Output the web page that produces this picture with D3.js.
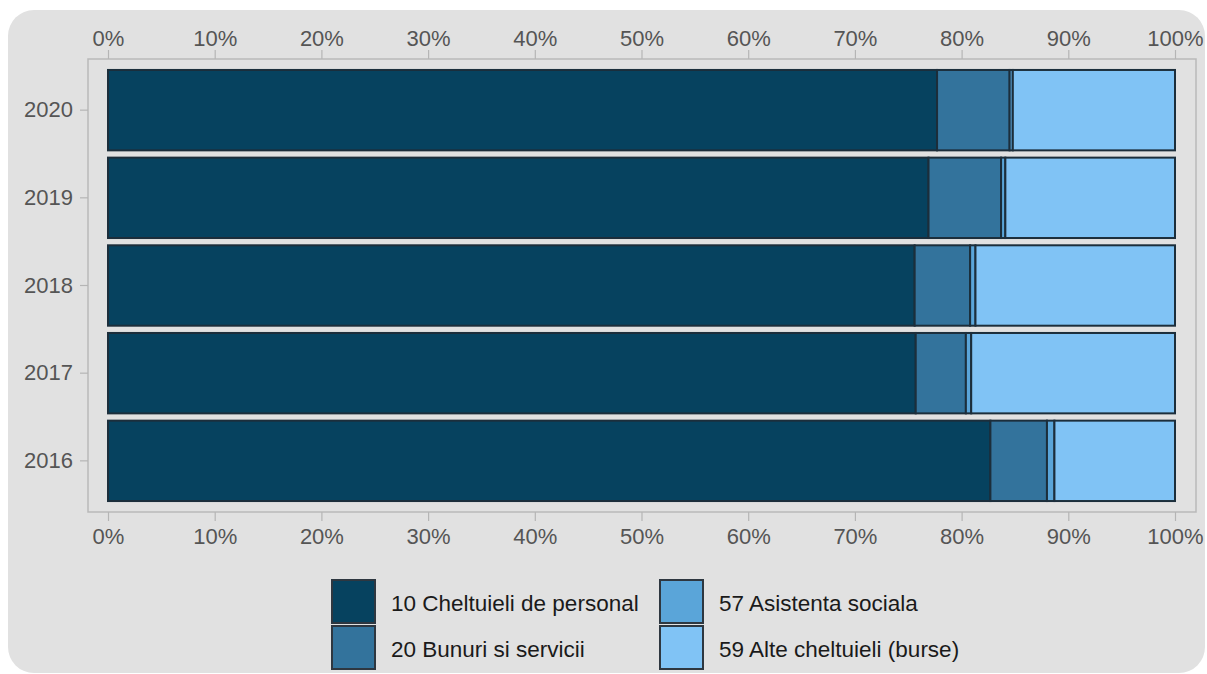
<!DOCTYPE html>
<html>
<head>
<meta charset="utf-8">
<script src="https://d3js.org/d3.v7.min.js"></script>
<style>
  html, body { margin: 0; padding: 0; background: #fff; }
  svg { display: block; }
</style>
</head>
<body>
<div id="chart"></div>
<script>
// Data (share of total, %)
const years = ['2020', '2019', '2018', '2017', '2016'];
const categories = ['10 Cheltuieli de personal', '20 Bunuri si servicii', '57 Asistenta sociala', '59 Alte cheltuieli (burse)'];
const personal = [77.7, 76.9, 75.6, 75.7, 82.7];
const bunuri = [6.8, 6.8, 5.2, 4.7, 5.3];
const asistenta = [0.3, 0.4, 0.5, 0.5, 0.7];
const alte = [15.2, 15.9, 18.7, 19.1, 11.3];
const tickValues = [0, 0.1, 0.2, 0.3, 0.4, 0.5, 0.6, 0.7, 0.8, 0.9, 1];

const colors = ['#06425f', '#33739c', '#5aa5d9', '#80c3f5'];

const width = 1207, height = 674;
const frame = { left: 88, top: 59, right: 1196, bottom: 512 };

// Build table for the stack
const series = [personal, bunuri, asistenta, alte];
const rows = years.map((y, i) => {
    const r = { year: y };
    categories.forEach((c, k) => { r[c] = series[k][i]; });
    return r;
});

const stack = d3.stack()
    .keys(categories)
    .offset(d3.stackOffsetExpand);
const layers = stack(rows);

const svg = d3.select('#chart')
    .append('svg')
    .attr('width', width)
    .attr('height', height);

// Grey panel
svg.append('rect')
    .attr('x', 8)
    .attr('y', 10)
    .attr('width', 1197)
    .attr('height', 663)
    .attr('rx', 26)
    .attr('fill', '#e1e1e1');

const x = d3.scaleLinear()
    .domain([0, 1])
    .range([108, 1175]);

const y = d3.scaleBand()
    .domain(years)
    .range([frame.top, frame.bottom])
    .paddingInner(0.083)
    .paddingOuter(0.125);

// Plot frame
svg.append('rect')
    .attr('x', frame.left)
    .attr('y', frame.top)
    .attr('width', frame.right - frame.left)
    .attr('height', frame.bottom - frame.top)
    .attr('fill', 'none')
    .attr('stroke', '#b9b9b9')
    .attr('stroke-width', 1.5);

const fmt = d3.format('.0%');

// Axes
const topAxis = svg.append('g')
    .attr('transform', `translate(0,${frame.top})`)
    .call(d3.axisTop(x).tickValues(tickValues).tickFormat(fmt).tickSize(9).tickPadding(4));

const bottomAxis = svg.append('g')
    .attr('transform', `translate(0,${frame.bottom})`)
    .call(d3.axisBottom(x).tickValues(tickValues).tickFormat(fmt).tickSize(9).tickPadding(7));

const leftAxis = svg.append('g')
    .attr('transform', `translate(${frame.left},0)`)
    .call(d3.axisLeft(y).tickSize(8).tickPadding(7));

[topAxis, bottomAxis, leftAxis].forEach(ax => {
    ax.select('.domain').remove();
    ax.selectAll('.tick line').attr('stroke', '#b5b5b5').attr('stroke-width', 1.2);
    ax.selectAll('.tick text')
        .attr('fill', '#555')
        .style('font-family', '"Liberation Sans", Arial, sans-serif')
        .style('font-size', '22px');
});

// Bars
const g = svg.append('g');
layers.forEach((layer, k) => {
    g.selectAll(null)
        .data(layer)
        .join('rect')
        .attr('x', d => x(d[0]))
        .attr('y', d => y(d.data.year))
        .attr('width', d => x(d[1]) - x(d[0]))
        .attr('height', y.bandwidth())
        .attr('fill', colors[k])
        .attr('stroke', '#1c2e3b')
        .attr('stroke-width', 2);
});

// Legend
const legendItems = [
    { i: 0, x: 332, y: 580 },
    { i: 1, x: 332, y: 626 },
    { i: 2, x: 660, y: 580 },
    { i: 3, x: 660, y: 626 }
];
const legend = svg.append('g');
legendItems.forEach(item => {
    legend.append('rect')
        .attr('x', item.x)
        .attr('y', item.y)
        .attr('width', 43)
        .attr('height', 43)
        .attr('fill', colors[item.i])
        .attr('stroke', '#2e3740')
        .attr('stroke-width', 2);
    legend.append('text')
        .attr('x', item.x + 59)
        .attr('y', item.y + 23)
        .attr('dy', '0.35em')
        .attr('fill', '#1a1a1a')
        .style('font-family', '"Liberation Sans", Arial, sans-serif')
        .style('font-size', '22.5px')
        .text(categories[item.i]);
});
</script>
</body>
</html>
